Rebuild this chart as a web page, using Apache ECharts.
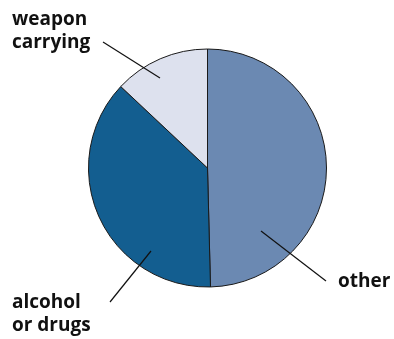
<!DOCTYPE html>
<html><head><meta charset="utf-8">
<script src="https://cdn.jsdelivr.net/npm/echarts@6/dist/echarts.min.js"></script>
<style>html,body{margin:0;padding:0;background:#fff}#c{width:394px;height:339px}</style>
</head><body><div id="c"></div>
<script>
var categories = ['other', 'alcohol\nor drugs', 'weapon\ncarrying'];
var values = [49.6, 37.4, 13.0];
var colors = ['#6b89b2', '#135e90', '#dde1ee'];

// label placement (text anchor + leader line ends), in pixels
var labelPos = [
  {x: 338, y: 282, line: [[261, 231], [326, 281]]},
  {x: 12,  y: 314, line: [[151, 251], [110, 302]]},
  {x: 12,  y: 31,  line: [[160, 78], [103, 42]]}
];

var graphics = [];
categories.forEach(function (c, i) {
  var L = labelPos[i];
  graphics.push({
    type: 'polyline', z: 100,
    shape: {points: L.line},
    style: {stroke: '#111', lineWidth: 1.2, fill: null}
  });
  graphics.push({
    type: 'text', z: 100, x: L.x, y: L.y,
    style: {
      text: c, fill: '#111',
      font: 'bold 19px "Open Sans"',
      lineHeight: 23,
      align: 'left', verticalAlign: 'middle'
    }
  });
});

var chart = echarts.init(document.getElementById('c'), null, {renderer: 'canvas'});
chart.setOption({
  animation: false,
  backgroundColor: '#fff',
  series: [{
    type: 'pie',
    center: [207.5, 168],
    radius: 119,
    startAngle: 90,
    clockwise: true,
    silent: true,
    data: categories.map(function (c, i) {
      return {name: c, value: values[i], itemStyle: {color: colors[i]}};
    }),
    itemStyle: {borderColor: '#1a1a1a', borderWidth: 1},
    label: {show: false},
    labelLine: {show: false}
  }],
  graphic: graphics
});
</script></body></html>
